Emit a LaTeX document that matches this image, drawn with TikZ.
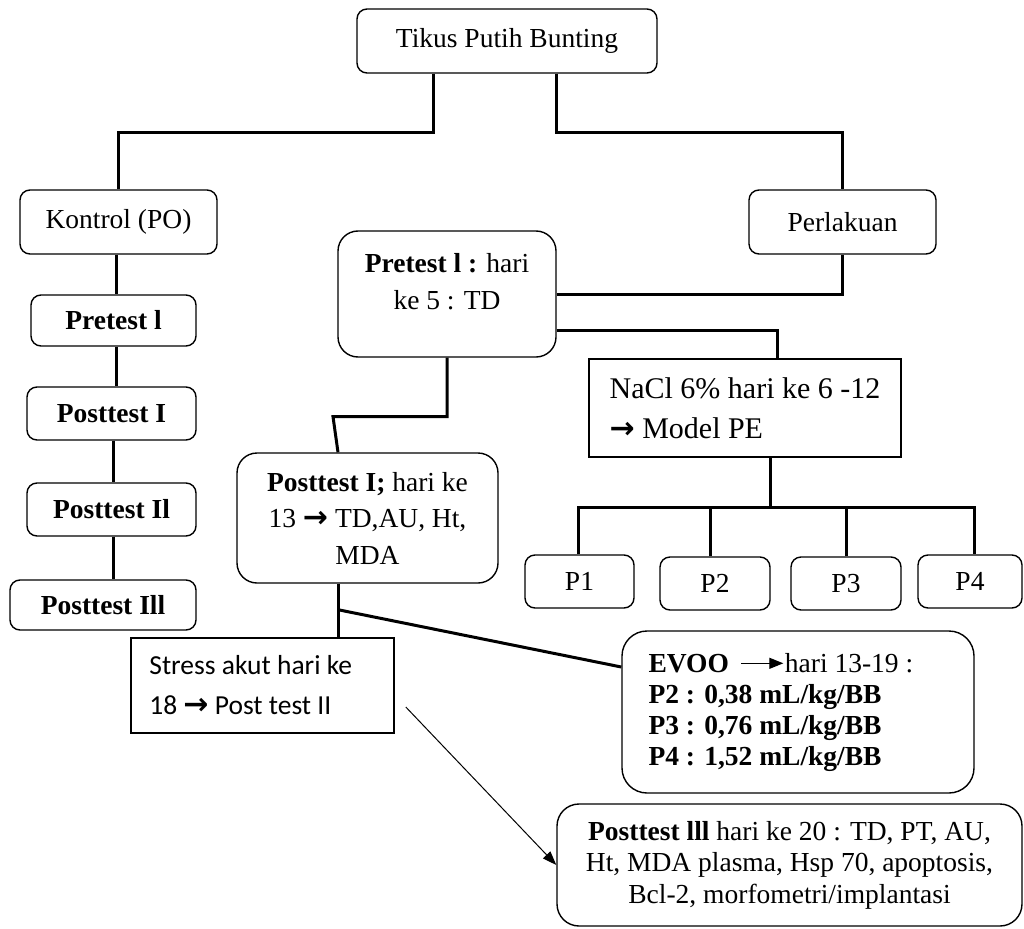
\documentclass[tikz,border=0pt]{standalone}
\usepackage{fontspec}
\setmainfont{Liberation Serif}
\newfontfamily\calibrifont{Carlito}
\newfontfamily\arrowfont{DejaVu Sans}
\usetikzlibrary{arrows.meta}
\newcommand{\rarr}{{\arrowfont\bfseries\fontsize{30}{30}\selectfont →}}
\begin{document}
\begin{tikzpicture}[x=1pt,y=-1pt,
  base/.style={draw, line width=1.4pt, inner sep=0pt, align=center, font=\fontsize{27.5}{33}\selectfont},
  rbox/.style={base, rounded corners=10pt},
  sbox/.style={base, rounded corners=0pt, line width=1.6pt},
  conn/.style={line width=3pt},
  txt/.style={inner sep=0pt, align=center, font=\fontsize{27.5}{37}\selectfont}]
\useasboundingbox (0,0) rectangle (1024,928);

% boxes
\node[rbox, minimum width=300pt, minimum height=64pt] (tikus) at (507,41) {Tikus Putih Bunting};
\node[rbox, minimum width=197pt, minimum height=64pt] (kontrol) at (118.5,222) {Kontrol (PO)};
\node[rbox, minimum width=187pt, minimum height=64pt] (perlakuan) at (842.5,222) {Perlakuan};
\node[rbox, minimum width=165pt, minimum height=51pt] (preK) at (113.5,320.5) {\textbf{Pretest l}};
\node[rbox, minimum width=169pt, minimum height=53pt] (postKa) at (111.5,413.5) {\textbf{Posttest I}};
\node[rbox, minimum width=169pt, minimum height=53pt] (postKb) at (111.5,509.5) {\textbf{Posttest Il}};
\node[rbox, minimum width=186pt, minimum height=50pt] (postKc) at (103,605) {\textbf{Posttest Ill}};

\node[rbox, rounded corners=20pt, minimum width=218pt, minimum height=126pt] (pre) at (447,294) {};
\node[txt] (pretxt) at (447,281.5) {\textbf{Pretest l :} hari\\ke 5 : TD};

\node[sbox, minimum width=312pt, minimum height=98pt, align=left, font=\fontsize{30}{40}\selectfont] (nacl) at (745,408) {NaCl 6\% hari ke 6 -12\\\rarr{} Model PE};

\node[rbox, minimum width=109pt, minimum height=53pt] (p1) at (579.5,581.5) {P1};
\node[rbox, minimum width=110pt, minimum height=53pt] (p2) at (715,583.5) {P2};
\node[rbox, minimum width=110pt, minimum height=53pt] (p3) at (846,583.5) {P3};
\node[rbox, minimum width=104pt, minimum height=53pt] (p4) at (970,581.5) {P4};

\node[rbox, rounded corners=20pt, minimum width=261pt, minimum height=130pt, font=\fontsize{27.5}{36.5}\selectfont] (post1) at (367.5,518) {\textbf{Posttest I;} hari ke\\13 \rarr{} TD,AU, Ht,\\MDA};

\node[sbox, minimum width=263pt, minimum height=95pt] (stress) at (262.5,685.5) {};
\node[txt, anchor=west, align=left, font=\calibrifont\fontsize{27.5}{40}\selectfont] (stresstxt) at ([xshift=19pt]stress.west) {Stress akut hari ke\\18 \rarr{} Post test II};

\node[rbox, rounded corners=25pt, minimum width=352pt, minimum height=162pt] (evoo) at (798,712) {};
\node[txt, anchor=west, align=left, font=\fontsize{27.5}{31}\selectfont] (evootxt) at ([xshift=27pt]evoo.west) {\textbf{EVOO}\hspace{56pt}hari 13-19 :\\\textbf{P2 : 0,38 mL/kg/BB}\\\textbf{P3 : 0,76 mL/kg/BB}\\\textbf{P4 : 1,52 mL/kg/BB}};

\node[rbox, rounded corners=22pt, minimum width=465pt, minimum height=122pt, font=\fontsize{27.5}{31.5}\selectfont] (post3) at (789.5,865) {\textbf{Posttest lll} hari ke 20 : TD, PT, AU,\\Ht, MDA plasma, Hsp 70, apoptosis,\\Bcl-2, morfometri/implantasi};

% connectors
\draw[conn] ([xshift=-74pt]tikus.south) -- ++(0,59) -| (kontrol.north);
\draw[conn] ([xshift=49pt]tikus.south) -- ++(0,59) -| (perlakuan.north);
\draw[conn] ([xshift=-2.5pt]kontrol.south) -- ([xshift=-2.5pt]kontrol.south |- preK.north);
\draw[conn] ([xshift=2.5pt]preK.south) -- ([xshift=2.5pt]preK.south |- postKa.north);
\draw[conn] ([xshift=1.5pt]postKa.south) -- ([xshift=1.5pt]postKa.south |- postKb.north);
\draw[conn] ([xshift=1.5pt]postKb.south) -- ([xshift=1.5pt]postKb.south |- postKc.north);

\draw[conn] (perlakuan.south) |- (pre.east);
\draw[conn] ([yshift=-36pt]pre.east) -| ([xshift=32pt]nacl.north);
\coordinate (bus) at (770,507);
\draw[conn] (nacl.south -| bus) -- (bus);
\draw[conn] ([xshift=-1.5pt]p1.north) |- (bus) -| ([xshift=4pt]p4.north);
\draw[conn] ([xshift=-5pt]p2.north) -- ([xshift=-5pt]p2.north |- bus);
\draw[conn] (p3.north) -- (p3.north |- bus);

\draw[conn] (pre.south) -- ++(0,59) -- ++(-114,0) -- ([xshift=-29.5pt]post1.north);
\draw[conn] ([xshift=-29.5pt]post1.south) -- ([xshift=-29.5pt]post1.south |- stress.north);
\coordinate (br) at ([xshift=-29.5pt,yshift=-26pt]post1.south);
\draw[conn] (br) -- ([yshift=45pt]evoo.west);

\draw[line width=1.3pt, -{Triangle[length=14pt,width=11pt]}] ([shift={(120,33)}]evoo.north west) -- ++(42,0);

\draw[line width=1pt, -{Triangle[length=14pt,width=10pt]}] ([shift={(11,21.5)}]stress.east) -- (post3.west);
\end{tikzpicture}
\end{document}
